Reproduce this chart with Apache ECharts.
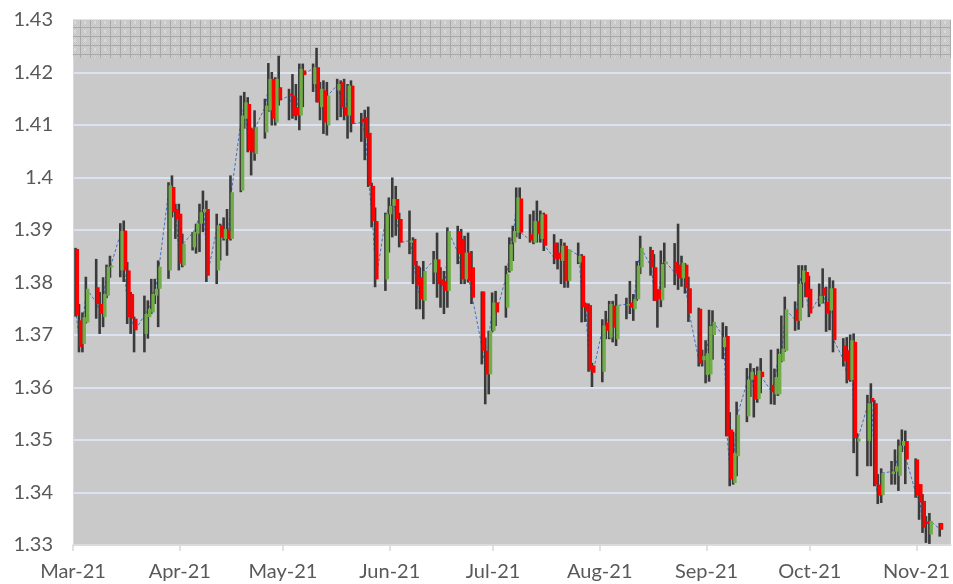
<!DOCTYPE html>
<html>
<head>
<meta charset="utf-8">
<script src="https://cdn.jsdelivr.net/npm/echarts@6/dist/echarts.min.js"></script>
<style>
html,body{margin:0;padding:0;background:#ffffff;}
#chart{width:953px;height:584px;}
</style>
</head>
<body>
<div id="chart"></div>
<script>
// ---- axis range ----
const axisStart = '2021-03-01';
const axisEnd = '2021-11-11';
const yTicks = [1.33, 1.34, 1.35, 1.36, 1.37, 1.38, 1.39, 1.40, 1.41, 1.42, 1.43];
const monthNames = ['Jan','Feb','Mar','Apr','May','Jun','Jul','Aug','Sep','Oct','Nov','Dec'];
const bandRange = [1.4228, 1.43];

// ---- daily OHLC ----
const dates = [
'2021-03-02','2021-03-03','2021-03-04','2021-03-05',
'2021-03-08','2021-03-09','2021-03-10','2021-03-11','2021-03-12',
'2021-03-15','2021-03-16','2021-03-17','2021-03-18','2021-03-19',
'2021-03-22','2021-03-23','2021-03-24','2021-03-25','2021-03-26',
'2021-03-29','2021-03-30','2021-03-31','2021-04-01','2021-04-02',
'2021-04-05','2021-04-06','2021-04-07','2021-04-08','2021-04-09',
'2021-04-12','2021-04-13','2021-04-14','2021-04-15','2021-04-16',
'2021-04-19','2021-04-20','2021-04-21','2021-04-22','2021-04-23',
'2021-04-26','2021-04-27','2021-04-28','2021-04-29','2021-04-30',
'2021-05-03','2021-05-04','2021-05-05','2021-05-06','2021-05-07',
'2021-05-10','2021-05-11','2021-05-12','2021-05-13','2021-05-14',
'2021-05-17','2021-05-18','2021-05-19','2021-05-20','2021-05-21',
'2021-05-24','2021-05-25','2021-05-26','2021-05-27','2021-05-28',
'2021-05-31','2021-06-01','2021-06-02','2021-06-03','2021-06-04',
'2021-06-07','2021-06-08','2021-06-09','2021-06-10','2021-06-11',
'2021-06-14','2021-06-15','2021-06-16','2021-06-17','2021-06-18',
'2021-06-21','2021-06-22','2021-06-23','2021-06-24','2021-06-25',
'2021-06-28','2021-06-29','2021-06-30','2021-07-01','2021-07-02',
'2021-07-05','2021-07-06','2021-07-07','2021-07-08','2021-07-09',
'2021-07-12','2021-07-13','2021-07-14','2021-07-15','2021-07-16',
'2021-07-19','2021-07-20','2021-07-21','2021-07-22','2021-07-23',
'2021-07-26','2021-07-27','2021-07-28','2021-07-29','2021-07-30',
'2021-08-02','2021-08-03','2021-08-04','2021-08-05','2021-08-06',
'2021-08-09','2021-08-10','2021-08-11','2021-08-12','2021-08-13',
'2021-08-16','2021-08-17','2021-08-18','2021-08-19','2021-08-20',
'2021-08-23','2021-08-24','2021-08-25','2021-08-26','2021-08-27',
'2021-08-30','2021-08-31','2021-09-01','2021-09-02','2021-09-03',
'2021-09-06','2021-09-07','2021-09-08','2021-09-09','2021-09-10',
'2021-09-13','2021-09-14','2021-09-15','2021-09-16','2021-09-17',
'2021-09-20','2021-09-21','2021-09-22','2021-09-23','2021-09-24',
'2021-09-27','2021-09-28','2021-09-29','2021-09-30','2021-10-01',
'2021-10-04','2021-10-05','2021-10-06','2021-10-07','2021-10-08',
'2021-10-11','2021-10-12','2021-10-13','2021-10-14','2021-10-15',
'2021-10-18','2021-10-19','2021-10-20','2021-10-21','2021-10-22',
'2021-10-25','2021-10-26','2021-10-27','2021-10-28','2021-10-29',
'2021-11-01','2021-11-02','2021-11-03','2021-11-04','2021-11-05',
'2021-11-08'
];
const opens = [
1.3864,1.3728,1.3683,1.3724,
1.3791,1.3759,1.3734,1.3775,1.3829,
1.3823,1.3899,1.3823,1.3778,1.3731,
1.3702,1.3734,1.3743,1.3775,1.3788,
1.3823,1.3982,1.3940,1.3931,1.3832,
1.3867,1.3893,1.3912,1.3934,1.3940,
1.3823,1.3909,1.3883,1.3899,1.3883,
1.3975,1.4112,1.4140,1.4093,1.4045,
1.4086,1.4128,1.4188,1.4105,1.4172,
1.4160,1.4156,1.4134,1.4118,1.4204,
1.4178,1.4210,1.4134,1.4166,1.4099,
1.4166,1.4182,1.4134,1.4118,1.4175,
1.4112,1.4115,1.4085,1.3984,1.3917,
1.3806,1.3930,1.3946,1.3959,1.3921,
1.3876,1.3883,1.3832,1.3810,1.3765,
1.3819,1.3844,1.3806,1.3803,1.3784,
1.3898,1.3883,1.3806,1.3857,1.3829,
1.3783,1.3670,1.3625,1.3708,1.3762,
1.3752,1.3822,1.3876,1.3895,1.3960,
1.3892,1.3876,1.3917,1.3883,1.3930,
1.3876,1.3857,1.3841,1.3870,1.3803,
1.3838,1.3851,1.3760,1.3757,1.3642,
1.3630,1.3724,1.3695,1.3756,1.3692,
1.3756,1.3762,1.3749,1.3768,1.3829,
1.3862,1.3829,1.3787,1.3766,1.3836,
1.3839,1.3834,1.3808,1.3834,1.3789,
1.3750,1.3652,1.3624,1.3625,1.3700,
1.3677,1.3698,1.3520,1.3418,1.3469,
1.3545,1.3615,1.3624,1.3578,1.3630,
1.3605,1.3587,1.3587,1.3650,1.3670,
1.3749,1.3727,1.3800,1.3820,1.3788,
1.3759,1.3790,1.3763,1.3747,1.3789,
1.3680,1.3671,1.3614,1.3687,1.3497,
1.3498,1.3580,1.3570,1.3415,1.3395,
1.3435,1.3440,1.3432,1.3489,1.3498,
1.3463,1.3416,1.3384,1.3345,1.3320,
1.3342
];
const highs = [
1.3866,1.3759,1.3743,1.3811,
1.3845,1.3782,1.3810,1.3834,1.3851,
1.3913,1.3918,1.3839,1.3782,1.3735,
1.3775,1.3766,1.3807,1.3807,1.3842,
1.3991,1.4004,1.3950,1.3950,1.3893,
1.3896,1.3912,1.3950,1.3975,1.3956,
1.3931,1.3912,1.3924,1.3940,1.4004,
1.4156,1.4163,1.4153,1.4095,1.4128,
1.4150,1.4218,1.4201,1.4191,1.4232,
1.4169,1.4197,1.4178,1.4217,1.4217,
1.4217,1.4247,1.4182,1.4185,1.4182,
1.4188,1.4185,1.4188,1.4178,1.4185,
1.4123,1.4129,1.4135,1.3990,1.3943,
1.3933,1.3962,1.4000,1.3984,1.3933,
1.3937,1.3886,1.3841,1.3829,1.3841,
1.3860,1.3895,1.3829,1.3822,1.3905,
1.3908,1.3902,1.3889,1.3895,1.3860,
1.3783,1.3695,1.3708,1.3781,1.3784,
1.3832,1.3886,1.3908,1.3981,1.3981,
1.3930,1.3937,1.3956,1.3937,1.3933,
1.3892,1.3876,1.3883,1.3876,1.3863,
1.3876,1.3854,1.3762,1.3760,1.3647,
1.3730,1.3746,1.3765,1.3765,1.3778,
1.3771,1.3803,1.3778,1.3841,1.3889,
1.3868,1.3854,1.3787,1.3861,1.3876,
1.3875,1.3912,1.3851,1.3837,1.3811,
1.3752,1.3672,1.3690,1.3748,1.3747,
1.3724,1.3717,1.3553,1.3516,1.3573,
1.3637,1.3646,1.3637,1.3640,1.3656,
1.3672,1.3636,1.3674,1.3737,1.3773,
1.3764,1.3833,1.3833,1.3833,1.3813,
1.3798,1.3827,1.3792,1.3810,1.3804,
1.3694,1.3696,1.3701,1.3703,1.3513,
1.3586,1.3608,1.3576,1.3435,1.3446,
1.3460,1.3482,1.3501,1.3520,1.3518,
1.3465,1.3416,1.3397,1.3355,1.3361,
1.3342
];
const lows = [
1.3735,1.3667,1.3667,1.3722,
1.3731,1.3702,1.3715,1.3770,1.3809,
1.3810,1.3801,1.3721,1.3702,1.3667,
1.3667,1.3693,1.3740,1.3759,1.3715,
1.3807,1.3924,1.3883,1.3823,1.3829,
1.3861,1.3855,1.3858,1.3896,1.3801,
1.3797,1.3842,1.3880,1.3851,1.3880,
1.3972,1.4093,1.4048,1.4004,1.4032,
1.4074,1.4125,1.4099,1.4099,1.4137,
1.4109,1.4112,1.4109,1.4090,1.4134,
1.4163,1.4143,1.4109,1.4083,1.4080,
1.4109,1.4115,1.4109,1.4074,1.4086,
1.4068,1.4033,1.3982,1.3905,1.3791,
1.3784,1.3857,1.3886,1.3889,1.3867,
1.3854,1.3797,1.3749,1.3749,1.3730,
1.3797,1.3771,1.3752,1.3740,1.3752,
1.3835,1.3797,1.3797,1.3800,1.3759,
1.3644,1.3568,1.3587,1.3705,1.3717,
1.3733,1.3819,1.3841,1.3886,1.3883,
1.3876,1.3873,1.3876,1.3876,1.3860,
1.3835,1.3825,1.3797,1.3790,1.3790,
1.3835,1.3724,1.3725,1.3630,1.3601,
1.3610,1.3692,1.3692,1.3686,1.3679,
1.3730,1.3740,1.3727,1.3765,1.3816,
1.3813,1.3765,1.3714,1.3753,1.3790,
1.3795,1.3786,1.3792,1.3779,1.3725,
1.3640,1.3640,1.3608,1.3611,1.3653,
1.3654,1.3507,1.3412,1.3415,1.3431,
1.3534,1.3582,1.3543,1.3571,1.3589,
1.3568,1.3567,1.3584,1.3648,1.3668,
1.3708,1.3710,1.3752,1.3772,1.3734,
1.3754,1.3760,1.3706,1.3709,1.3667,
1.3640,1.3608,1.3611,1.3475,1.3431,
1.3450,1.3450,1.3412,1.3378,1.3380,
1.3415,1.3415,1.3403,1.3477,1.3416,
1.3390,1.3348,1.3323,1.3304,1.3302,
1.3316
];
const closes = [
1.3737,1.3677,1.3734,1.3788,
1.3759,1.3740,1.3778,1.3830,1.3832,
1.3898,1.3823,1.3734,1.3731,1.3709,
1.3740,1.3750,1.3778,1.3788,1.3830,
1.3985,1.3934,1.3920,1.3836,1.3874,
1.3896,1.3912,1.3934,1.3940,1.3813,
1.3909,1.3886,1.3902,1.3883,1.3972,
1.4118,1.4143,1.4051,1.4048,1.4096,
1.4137,1.4188,1.4112,1.4188,1.4147,
1.4156,1.4118,1.4118,1.4207,1.4195,
1.4210,1.4143,1.4169,1.4105,1.4156,
1.4178,1.4134,1.4118,1.4175,1.4102,
1.4105,1.4075,1.3985,1.3917,1.3806,
1.3930,1.3946,1.3959,1.3921,1.3876,
1.3880,1.3832,1.3794,1.3768,1.3822,
1.3844,1.3797,1.3794,1.3784,1.3898,
1.3854,1.3806,1.3857,1.3803,1.3771,
1.3670,1.3625,1.3708,1.3762,1.3743,
1.3816,1.3873,1.3898,1.3962,1.3895,
1.3880,1.3917,1.3892,1.3930,1.3870,
1.3845,1.3845,1.3870,1.3803,1.3863,
1.3851,1.3753,1.3745,1.3633,1.3628,
1.3718,1.3708,1.3759,1.3714,1.3756,
1.3759,1.3752,1.3768,1.3832,1.3866,
1.3829,1.3765,1.3768,1.3835,1.3840,
1.3817,1.3808,1.3838,1.3789,1.3741,
1.3645,1.3660,1.3665,1.3717,1.3725,
1.3696,1.3507,1.3425,1.3475,1.3548,
1.3615,1.3630,1.3577,1.3632,1.3620,
1.3591,1.3620,1.3664,1.3674,1.3749,
1.3727,1.3798,1.3823,1.3772,1.3741,
1.3775,1.3775,1.3741,1.3789,1.3690,
1.3650,1.3614,1.3690,1.3504,1.3503,
1.3570,1.3572,1.3415,1.3394,1.3437,
1.3440,1.3450,1.3489,1.3498,1.3463,
1.3394,1.3381,1.3333,1.3340,1.3346,
1.3329
];

// ---- calendar categories for the date axis ----
const categories = [];
(function () {
  const d = new Date(axisStart + 'T00:00:00Z');
  const end = new Date(axisEnd + 'T00:00:00Z');
  while (d <= end) {
    categories.push(d.toISOString().slice(0, 10));
    d.setUTCDate(d.getUTCDate() + 1);
  }
})();

// ---- hatch pattern for the top band ----
function makePattern() {
  const c = document.createElement('canvas');
  c.width = 10; c.height = 9;
  const g = c.getContext('2d');
  g.fillStyle = '#D0D0D0';
  g.fillRect(0, 0, 10, 9);
  for (let i = 0; i < 10; i++) {
    for (let j = 0; j < 9; j++) {
      if ((i + j) % 2 === 0) { g.fillStyle = '#C4C4C4'; g.fillRect(i, j, 1, 1); }
    }
  }
  g.fillStyle = '#D8D8D8';
  g.fillRect(4, 3, 2, 3);
  g.fillStyle = '#A9A9A9';
  g.fillRect(0, 0, 10, 1);
  g.fillRect(0, 0, 1, 9);
  return c;
}

const candleData = dates.map((d, i) => [d, opens[i], closes[i], lows[i], highs[i]]);
const closeData = dates.map((d, i) => [d, closes[i]]);

const chart = echarts.init(document.getElementById('chart'), null, { renderer: 'canvas' });
const labelFont = 'Lato';

function wickItem(params, api) {
  const x = api.value(0);
  const pH = api.coord([x, api.value(4)]);
  const pL = api.coord([x, api.value(3)]);
  return { type: 'rect', shape: { x: pH[0] - 2.2, y: pH[1], width: 2.6, height: Math.max(pL[1] - pH[1], 1) },
           style: { fill: '#3A3A3A' } };
}
function bodyItem(params, api) {
  const x = api.value(0);
  const o = api.value(1), c = api.value(2);
  const pO = api.coord([x, o]);
  const pC = api.coord([x, c]);
  const top = Math.min(pO[1], pC[1]);
  const bh = Math.max(Math.abs(pO[1] - pC[1]), 1.5);
  return { type: 'rect', shape: { x: pO[0] - 0.8, y: top, width: 3.4, height: bh },
           style: { fill: c >= o ? '#70AD47' : '#FF0000' } };
}

chart.setOption({
  animation: false,
  backgroundColor: '#ffffff',
  grid: {
    left: 73, right: 1, top: 20, bottom: 39,
    show: true, backgroundColor: '#C9C9C9', borderWidth: 0
  },
  xAxis: {
    type: 'category',
    data: categories,
    boundaryGap: false,
    axisLine: { show: true, lineStyle: { color: '#D9D9D9', width: 1.5 } },
    axisTick: {
      show: true, length: 6,
      interval: (idx, v) => v.slice(8) === '01',
      lineStyle: { color: '#D9D9D9', width: 1.5 }
    },
    axisLabel: {
      interval: (idx, v) => v.slice(8) === '01',
      formatter: v => monthNames[parseInt(v.slice(5, 7), 10) - 1] + '-' + v.slice(2, 4),
      color: '#595959', fontSize: 20, fontFamily: labelFont, margin: 17
    },
    splitLine: { show: false }
  },
  yAxis: {
    type: 'value',
    min: yTicks[0], max: yTicks[yTicks.length - 1], interval: 0.01,
    axisLine: { show: true, lineStyle: { color: '#D9D9D9', width: 1 } },
    axisTick: { show: false },
    axisLabel: {
      formatter: v => String(Math.round(v * 100) / 100),
      color: '#595959', fontSize: 20, fontFamily: labelFont, margin: 20
    },
    splitLine: { show: true, lineStyle: { color: '#DAE3F1', width: 2 } }
  },
  series: [
    {
      type: 'line',
      data: closeData,
      symbol: 'none',
      connectNulls: true,
      z: 2,
      lineStyle: { color: '#4472C4', width: 1, type: [3, 2] },
      markArea: {
        silent: true,
        itemStyle: { color: { image: makePattern(), repeat: 'repeat' }, borderWidth: 0 },
        data: [[
          { coord: [categories[0], bandRange[0]] },
          { coord: [categories[categories.length - 1], bandRange[1]] }
        ]]
      }
    },
    {
      type: 'custom',
      z: 3,
      data: candleData,
      encode: { x: 0, y: [1, 2, 3, 4] },
      renderItem: wickItem
    },
    {
      type: 'custom',
      z: 4,
      data: candleData,
      encode: { x: 0, y: [1, 2, 3, 4] },
      renderItem: bodyItem
    }
  ]
});
</script>
</body>
</html>
